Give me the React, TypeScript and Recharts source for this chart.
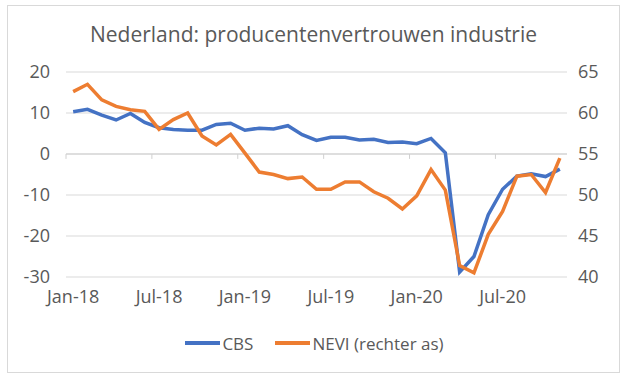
import { LineChart, Line, XAxis, YAxis, CartesianGrid, Legend, ReferenceLine } from 'recharts';

const months = [
  'Jan-18', 'Feb-18', 'Mar-18', 'Apr-18', 'May-18', 'Jun-18', 'Jul-18', 'Aug-18', 'Sep-18', 'Oct-18', 'Nov-18', 'Dec-18',
  'Jan-19', 'Feb-19', 'Mar-19', 'Apr-19', 'May-19', 'Jun-19', 'Jul-19', 'Aug-19', 'Sep-19', 'Oct-19', 'Nov-19', 'Dec-19',
  'Jan-20', 'Feb-20', 'Mar-20', 'Apr-20', 'May-20', 'Jun-20', 'Jul-20', 'Aug-20', 'Sep-20', 'Oct-20', 'Nov-20',
];

const cbs = [
  10.3, 10.9, 9.5, 8.3, 9.9, 7.7, 6.4, 6.0, 5.8, 5.8, 7.2, 7.5,
  5.8, 6.3, 6.1, 6.9, 4.7, 3.3, 4.1, 4.1, 3.4, 3.6, 2.8, 2.9,
  2.5, 3.8, 0.3, -28.8, -25.0, -14.8, -8.6, -5.4, -4.8, -5.5, -3.7,
];

const nevi = [
  62.6, 63.5, 61.6, 60.8, 60.4, 60.2, 58.0, 59.2, 60.0, 57.2, 56.1, 57.4,
  55.1, 52.8, 52.5, 52.0, 52.2, 50.7, 50.7, 51.6, 51.6, 50.4, 49.6, 48.3,
  49.9, 53.1, 50.6, 41.4, 40.5, 45.2, 48.0, 52.3, 52.5, 50.3, 54.5,
];

const leftTicks = [-30, -20, -10, 0, 10, 20];
const rightTicks = [40, 45, 50, 55, 60, 65];
const markedMonths = ['Jan-18', 'Jul-18', 'Jan-19', 'Jul-19', 'Jan-20', 'Jul-20'];

const data = months.map((m, i) => ({ month: m, cbs: cbs[i], nevi: nevi[i] }));

const FONT = '"Open Sans", sans-serif';
const TEXT = '#595959';
const BLUE = '#4472C4';
const ORANGE = '#ED7D31';

const legendItems = [
  { label: 'CBS', color: BLUE },
  { label: 'NEVI (rechter as)', color: ORANGE },
];

function ChartLegend() {
  return (
    <div style={{ display: 'flex', justifyContent: 'center', alignItems: 'center', gap: 22, height: 24, paddingLeft: 4 }}>
      {legendItems.map((it) => (
        <div key={it.label} style={{ display: 'flex', alignItems: 'center' }}>
          <span style={{ display: 'inline-block', width: 35, height: 3.5, background: it.color, marginRight: 2 }} />
          <span style={{ fontFamily: FONT, fontSize: 17, color: TEXT }}>{it.label}</span>
        </div>
      ))}
    </div>
  );
}

export default function App() {
  return (
    <div
      style={{
        position: 'absolute',
        left: 7,
        top: 5,
        width: 611,
        height: 366,
        border: '1px solid #d9d9d9',
        background: '#fff',
      }}
    >
      <div
        style={{
          position: 'absolute',
          top: 14,
          width: '100%',
          textAlign: 'center',
          fontFamily: FONT,
          fontSize: 21,
          lineHeight: '28px',
          color: TEXT,
        }}
      >
        Nederland: producentenvertrouwen industrie
      </div>
      <div style={{ position: 'absolute', left: 0, top: 0 }}>
        <LineChart width={609} height={364} data={data} margin={{ top: 66, right: 0, left: 0, bottom: 15 }}>
          <CartesianGrid yAxisId="left" vertical={false} stroke="#d9d9d9" strokeWidth={1} />
          <XAxis
            dataKey="month"
            scale="band"
            interval={5}
            axisLine={false}
            tickLine={false}
            tickMargin={7}
            height={54}
            tick={{ fontSize: 18, fill: TEXT, fontFamily: FONT }}
          />
          <YAxis
            yAxisId="left"
            domain={[-30, 20]}
            ticks={leftTicks}
            width={58}
            axisLine={false}
            tickLine={false}
            tickMargin={10}
            tick={{ fontSize: 18, fill: TEXT, fontFamily: FONT }}
          />
          <YAxis
            yAxisId="right"
            orientation="right"
            domain={[40, 65]}
            ticks={rightTicks}
            width={50}
            axisLine={false}
            tickLine={false}
            tickMargin={5}
            tick={{ fontSize: 18, fill: TEXT, fontFamily: FONT, textAnchor: 'start' }}
          />
          <ReferenceLine yAxisId="left" y={0} stroke="#d0d0d0" strokeWidth={1} />
          {/* small tick marks hanging off the zero line, at category boundaries */}
          {markedMonths.map((m) => (
            <ReferenceLine
              key={m}
              yAxisId="left"
              position="start"
              segment={[{ x: m, y: 0 }, { x: m, y: -1.2 }]}
              stroke="#d0d0d0"
              strokeWidth={1}
            />
          ))}
          <Legend verticalAlign="bottom" content={() => <ChartLegend />} />
          <Line
            yAxisId="left"
            dataKey="cbs"
            name="CBS"
            stroke={BLUE}
            strokeWidth={3.5}
            dot={false}
            type="linear"
            isAnimationActive={false}
          />
          <Line
            yAxisId="right"
            dataKey="nevi"
            name="NEVI (rechter as)"
            stroke={ORANGE}
            strokeWidth={3.5}
            dot={false}
            type="linear"
            isAnimationActive={false}
          />
        </LineChart>
      </div>
    </div>
  );
}
